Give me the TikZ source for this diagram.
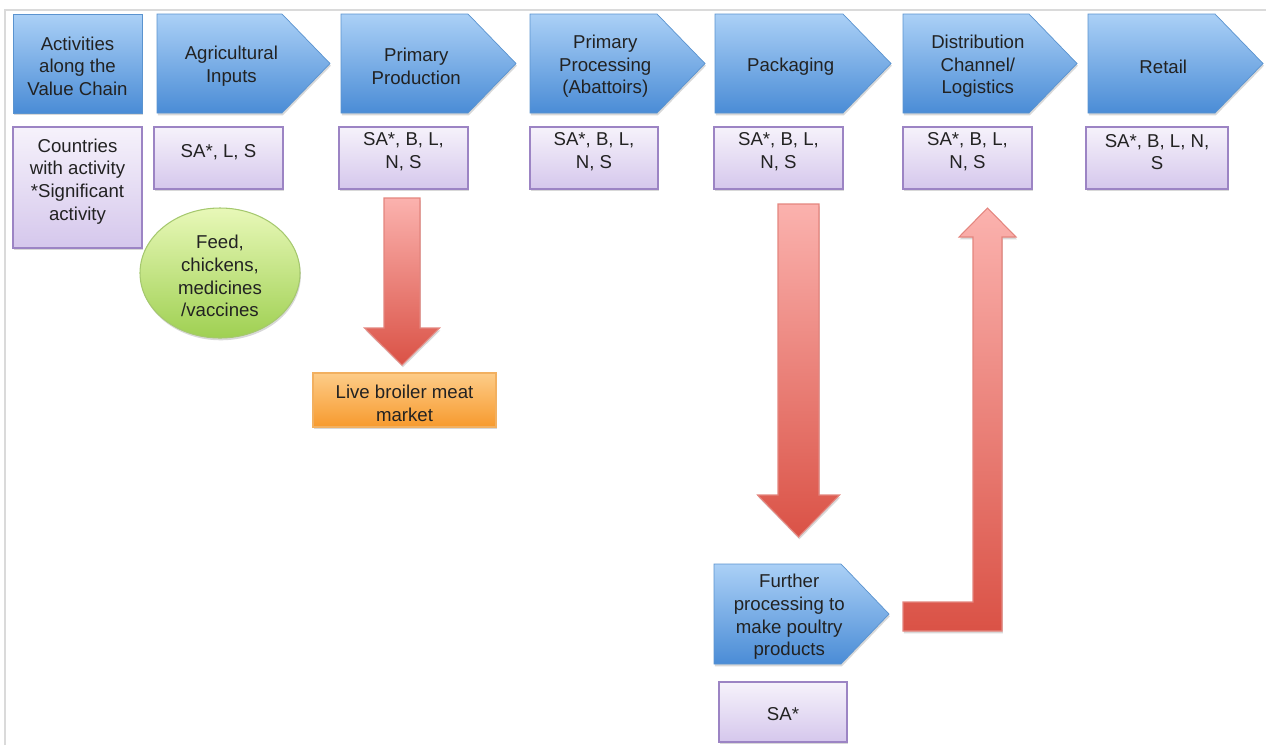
\documentclass[tikz,border=0pt]{standalone}
\usepackage{fontspec}
\setmainfont{Liberation Sans}
\usetikzlibrary{shadows,calc,shapes.geometric}

\definecolor{chevTop}{HTML}{ABD0F6}
\definecolor{chevBot}{HTML}{4A8CD6}
\definecolor{chevLine}{HTML}{5A93CF}
\definecolor{purTop}{HTML}{F6F2FB}
\definecolor{purBot}{HTML}{D5C7EC}
\definecolor{purLine}{HTML}{9C84C4}
\definecolor{grnTop}{HTML}{E8F8B8}
\definecolor{grnBot}{HTML}{9FD052}
\definecolor{grnLine}{HTML}{A5C86E}
\definecolor{orTop}{HTML}{FDCC88}
\definecolor{orBot}{HTML}{F79A2E}
\definecolor{orLine}{HTML}{F2B060}
\definecolor{redTop}{HTML}{FBB2AE}
\definecolor{redBot}{HTML}{DA5246}
\definecolor{redLine}{HTML}{E4857E}
\definecolor{txtcol}{HTML}{222222}
\definecolor{framecol}{HTML}{DADADA}

\tikzset{
  lbl/.style={font=\fontsize{10.6}{12.9}\selectfont, text=txtcol, align=center, inner sep=0pt},
  shad/.style={drop shadow={shadow xshift=0.5pt, shadow yshift=-1.3pt, opacity=0.28, fill=black!55}},
  sized/.style 2 args={minimum width=#1*0.02cm, minimum height=#2*0.02cm, inner sep=0pt, outer sep=0pt},
  bluefill/.style={shad, top color=chevTop, bottom color=chevBot, draw=chevLine, line width=0.4pt},
  purplebox/.style={shad, rectangle, top color=purTop, bottom color=purBot, draw=purLine, line width=0.8pt},
  greenoval/.style={shad, ellipse, top color=grnTop, bottom color=grnBot, draw=grnLine, line width=0.6pt},
  orangebox/.style={shad, rectangle, top color=orTop, bottom color=orBot, draw=orLine, line width=0.6pt},
  redarrow/.style={shad, top color=redTop, bottom color=redBot, draw=redLine, line width=0.6pt},
}

% chevron: name, left x, tip x, top y, bottom y, text
\newcommand{\valuechev}[6]{%
  \shade[bluefill] (#2,#4) -- ({#3-48},#4) -- (#3,{(#4+#5)/2}) -- ({#3-48},#5) -- (#2,#5) -- cycle;
  \coordinate (#1-tip) at (#3,{(#4+#5)/2});
  \node[lbl] (#1) at ({#2+0.43*(#3-#2)},{(#4+#5)/2+3}) {#6};}

% vertical block arrow pointing down: top point, tip point, shaft half width, head half width, head length
\newcommand{\downblock}[5]{%
  \shade[redarrow] ($#1+(-#3,0)$) -- ($#1+(#3,0)$) -- ($#2+(#3,-#5)$) -- ($#2+(#4,-#5)$) -- #2
    -- ($#2+(-#4,-#5)$) -- ($#2+(-#3,-#5)$) -- cycle;}

\begin{document}
\begin{tikzpicture}[x=0.02cm, y=-0.02cm]
\useasboundingbox (0,0) rectangle (1266,745);

% page frame
\draw[framecol, line width=1.1pt] (5,745) -- (5,10) -- (1266,10);

% header row
\shade[bluefill] (13,14) rectangle (142,113);
\node[lbl] (act) at (77.5,66) {Activities\\along the\\Value Chain};
\valuechev{agri}{157}{330}{14}{113}{Agricultural\\Inputs}
\valuechev{prod}{341}{516}{14}{113}{Primary\\Production}
\valuechev{proc}{530}{705}{14}{113}{Primary\\Processing\\(Abattoirs)}
\valuechev{pack}{715}{891}{14}{113}{Packaging}
\valuechev{dist}{903}{1077}{14}{113}{Distribution\\Channel/\\Logistics}
\valuechev{reta}{1088}{1263}{14}{113}{Retail}

% country boxes
\node[purplebox, sized={129}{121}] (ctbox) at (77.5,187.5) {};
\node[lbl] (cttext) at (77.5,181.5) {Countries\\with activity\\*Significant\\activity};
\node[purplebox, sized={129}{62}] (agbox) at (218.5,158) {};
\node[lbl] (agtext) at (218.5,152) {SA*, L, S};
\node[purplebox, sized={129}{62}] (ppbox) at (403.5,158) {};
\node[lbl] (pptext) at (403.5,152) {SA*, B, L,\\N, S};
\node[purplebox, sized={128}{62}] (prbox) at (594,158) {};
\node[lbl] (prtext) at (594,152) {SA*, B, L,\\N, S};
\node[purplebox, sized={129}{62}] (pkbox) at (778.5,158) {};
\node[lbl] (pktext) at (778.5,152) {SA*, B, L,\\N, S};
\node[purplebox, sized={129}{62}] (dsbox) at (967.5,158) {};
\node[lbl] (dstext) at (967.5,152) {SA*, B, L,\\N, S};
\node[purplebox, sized={142}{62}] (rtbox) at (1157,158) {};
\node[lbl] (rttext) at (1157,152) {SA*, B, L, N,\\S};

% inputs
\node[greenoval, sized={160}{130}] (inputs) at (220,273) {};
\node[lbl] (inputstext) at (220,276) {Feed,\\chickens,\\medicines\\/vaccines};

% live market branch
\node[orangebox, sized={183}{54}] (live) at (404.5,400) {};
\node[lbl] (livetext) at (404.5,403.5) {Live broiler meat\\market};
\coordinate (a1top) at ($(ppbox.south)+(-1.5,9)$);
\coordinate (a1tip) at ($(a1top |- live.north)+(0,-8)$);
\downblock{(a1top)}{(a1tip)}{18}{37.5}{37}

% further processing branch
\valuechev{fp}{714}{889}{564}{664}{Further\\processing to\\make poultry\\products}
\node[purplebox, sized={128}{60}] (sabox) at (783,712) {};
\node[lbl] (satext) at (783,714.5) {SA*};
\coordinate (a2top) at ($(pkbox.south)+(20,15)$);
\coordinate (a2tip) at (a2top |- 0,537);
\downblock{(a2top)}{(a2tip)}{20.5}{41}{42}

% return arrow up to distribution
\coordinate (ltip) at ($(dsbox.south)+(20,19)$);
\shade[redarrow] (903,602) -- (973,602) -- (973,237) -- (959,237) -- (ltip)
  -- (1016,237) -- (1002,237) -- (1002,631) -- (903,631) -- cycle;
\end{tikzpicture}
\end{document}
